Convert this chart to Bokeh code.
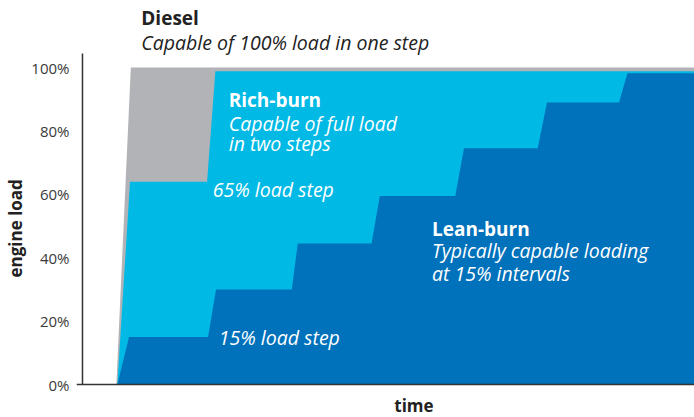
from bokeh.plotting import figure
from bokeh.models import Range1d, Label, Span, FixedTicker, PrintfTickFormatter, Title
from bokeh.embed import file_html
from bokeh.resources import INLINE

# ---- data (time in arbitrary units, load in %) ----
diesel_time = [34, 48.5, 614]
diesel_load = [0, 100, 100]

rich_time = [35, 47.7, 125, 133.3, 614]
rich_load = [0, 64, 64, 98.8, 98.8]

lean_time = [35, 46.7, 126, 134, 210, 216, 290, 298.3, 374, 382.7,
             456.7, 466, 538.3, 546.7, 614]
lean_load = [0, 15, 15, 30, 30, 44.5, 44.5, 59.5, 59.5, 74.5,
             74.5, 89, 89, 98.2, 98.2]

y_ticks = [0, 20, 40, 60, 80, 100]
Y_AXIS_TOP = 104.4

GRAY = "#B1B3B6"
LIGHT = "#00B9E4"
DARK = "#0071BB"
AXIS = "#333333"
FONT = "Open Sans"

p = figure(width=694, height=417, output_backend="svg", toolbar_location=None,
           title=None,
           x_range=Range1d(-6, 614), y_range=Range1d(-10.41, 121.14),
           min_border_left=74, min_border_right=0, min_border_top=0,
           min_border_bottom=0)
p.outline_line_color = None
p.xgrid.visible = False
p.ygrid.visible = False
p.background_fill_color = "white"

# areas
p.varea(x=diesel_time, y1=0, y2=diesel_load, fill_color=GRAY)
p.varea(x=rich_time, y1=0, y2=rich_load, fill_color=LIGHT)
p.varea(x=lean_time, y1=0, y2=lean_load, fill_color=DARK)

# y axis (labels only; line drawn at time origin)
ya = p.yaxis[0]
ya.ticker = FixedTicker(ticks=y_ticks)
ya.formatter = PrintfTickFormatter(format="%d%%")
ya.axis_line_color = None
ya.major_tick_line_color = None
ya.minor_tick_line_color = None
ya.major_tick_out = 0
ya.major_tick_in = 0
ya.major_label_standoff = 7
ya.major_label_text_font = FONT
ya.major_label_text_font_size = "15px"
ya.major_label_text_color = "#3a3a3a"

p.xaxis.visible = False

# axis lines
p.add_layout(Span(location=0, dimension="width", line_color=AXIS, line_width=1.5))
p.segment(x0=0, y0=0, x1=0, y1=Y_AXIS_TOP, line_color=AXIS, line_width=1.5)

def lab(x, y, text, size="19.5px", style="italic", color="white",
        align="left", baseline="alphabetic"):
    p.add_layout(Label(x=x, y=y, text=text, text_font=FONT, text_font_size=size,
                       text_font_style=style, text_color=color,
                       text_baseline=baseline, text_align=align))

lab(59, 115.6, "Diesel", size="19px", style="bold", color="#222222")
lab(59, 107.8, "Capable of 100% load in one step", color="#222222")
lab(146.7, 89.6, "Rich-burn", size="19px", style="bold")
lab(146.7, 82.2, "Capable of full load")
lab(146.7, 75.9, "in two steps")
lab(130.7, 61.4, "65% load step")
lab(136.7, 14.9, "15% load step")
lab(350.7, 49.1, "Lean-burn", size="19px", style="bold")
lab(350.7, 42.3, "Typically capable loading")
lab(350.7, 35.1, "at 15% intervals")
lab(332.5, -6.6, "time", size="17px", style="bold", color="#222222", align="center")

p.add_layout(Title(text="engine load", text_font=FONT, text_font_size="17px",
                   text_font_style="bold", text_color="#222222",
                   align="left", offset=140, standoff=3), "left")

open("out.html", "w").write(file_html(p, INLINE))
